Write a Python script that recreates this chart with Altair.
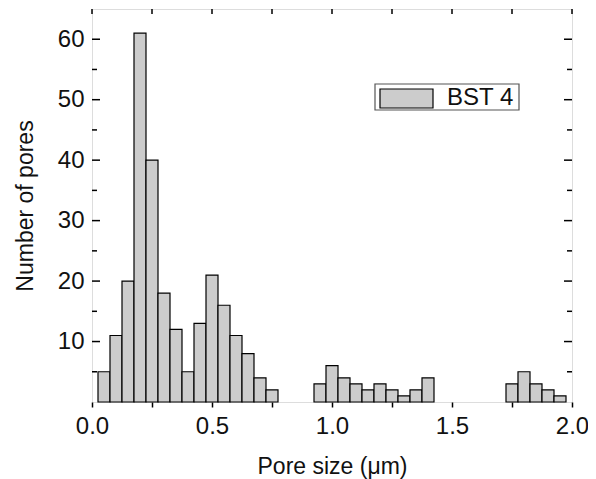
import altair as alt
import pandas as pd

# ---- data ----
bin_centers = [0.05, 0.10, 0.15, 0.20, 0.25, 0.30, 0.35, 0.40, 0.45, 0.50,
               0.55, 0.60, 0.65, 0.70, 0.75, 0.80, 0.85, 0.90, 0.95, 1.00,
               1.05, 1.10, 1.15, 1.20, 1.25, 1.30, 1.35, 1.40, 1.45, 1.50,
               1.55, 1.60, 1.65, 1.70, 1.75, 1.80, 1.85, 1.90, 1.95]
counts = [5, 11, 20, 61, 40, 18, 12, 5, 13, 21,
          16, 11, 8, 4, 2, 0, 0, 0, 3, 6,
          4, 3, 2, 3, 2, 1, 2, 4, 0, 0,
          0, 0, 0, 0, 3, 5, 3, 2, 1]
bin_width = 0.05
series_name = ["BST 4"]

x_ticks = [0.0, 0.25, 0.5, 0.75, 1.0, 1.25, 1.5, 1.75, 2.0]
y_major = [10, 20, 30, 40, 50, 60]
y_minor = [5, 15, 25, 35, 45, 55]

FONT = "Liberation Sans"
W, H = 480, 393
PAD_L = 84
BAR_FILL = "#cccccc"

df = pd.DataFrame({"center": bin_centers, "n": counts})
df["x0"] = df["center"] - bin_width / 2
df["x1"] = df["center"] + bin_width / 2
df = df[df["n"] > 0]

xscale = alt.Scale(domain=[0, 2], nice=False, zero=False)
yscale = alt.Scale(domain=[0, 65], nice=False)

bars = alt.Chart(df).mark_bar(fill=BAR_FILL, stroke="black", strokeWidth=1.2).encode(
    x=alt.X("x0:Q", scale=xscale,
            axis=alt.Axis(values=x_ticks, title="Pore size (\u03bcm)",
                          labelExpr="datum.value % 0.5 == 0 ? format(datum.value, '.1f') : ''",
                          labelFlush=False, labelOverlap=False,
                          tickSize=5, tickWidth=1.5, tickColor="black",
                          domain=False, grid=False, labelPadding=7,
                          labelFontSize=24, titleFontSize=23, titlePadding=17,
                          labelFont=FONT, titleFont=FONT, titleFontWeight="normal",
                          labelColor="#111", titleColor="#111")),
    x2="x1:Q",
    y=alt.Y("n:Q", scale=yscale,
            axis=alt.Axis(values=y_major, title="Number of pores", ticks=False,
                          labelFlush=False, labelOverlap=False,
                          domain=False, grid=False, labelPadding=8,
                          labelFontSize=24, titleFontSize=23, titlePadding=20,
                          labelFont=FONT, titleFont=FONT, titleFontWeight="normal",
                          labelColor="#111", titleColor="#111")),
    y2=alt.datum(0),
)

tick_df_major = pd.DataFrame({"v": y_major})
tick_df_minor = pd.DataFrame({"v": y_minor})
top_df = pd.DataFrame({"v": x_ticks})

left_major = alt.Chart(tick_df_major).mark_rule(color="black", strokeWidth=1.5).encode(
    y=alt.Y("v:Q", scale=yscale), x=alt.value(0), x2=alt.value(8))
left_minor = alt.Chart(tick_df_minor).mark_rule(color="black", strokeWidth=1.5).encode(
    y=alt.Y("v:Q", scale=yscale), x=alt.value(0), x2=alt.value(5))
right_major = alt.Chart(tick_df_major).mark_rule(color="black", strokeWidth=1.5).encode(
    y=alt.Y("v:Q", scale=yscale), x=alt.value(W - 8), x2=alt.value(W))
right_minor = alt.Chart(tick_df_minor).mark_rule(color="black", strokeWidth=1.5).encode(
    y=alt.Y("v:Q", scale=yscale), x=alt.value(W - 5), x2=alt.value(W))
top_ticks = alt.Chart(top_df).mark_rule(color="black", strokeWidth=1.5).encode(
    x=alt.X("v:Q", scale=xscale), y=alt.value(0), y2=alt.value(5))

# legend (drawn as a small box with swatch and label)
leg_df = pd.DataFrame({"label": series_name})
leg_box = alt.Chart(leg_df).mark_rect(fill="white", stroke="#555", strokeWidth=1.2).encode(
    x=alt.value(283), x2=alt.value(427), y=alt.value(75), y2=alt.value(101))
leg_swatch = alt.Chart(leg_df).mark_rect(fill=BAR_FILL, stroke="black", strokeWidth=1.2).encode(
    x=alt.value(288), x2=alt.value(341), y=alt.value(80), y2=alt.value(99))
leg_text = alt.Chart(leg_df).mark_text(
    align="left", baseline="middle", font=FONT, fontSize=24, color="#111").encode(
    x=alt.value(355), y=alt.value(89), text="label:N")

chart = alt.layer(bars, left_major, left_minor, right_major, right_minor, top_ticks,
                  leg_box, leg_swatch, leg_text).properties(
    width=W, height=H,
    autosize=alt.AutoSizeParams(type="none"),
    padding={"left": PAD_L, "top": 1, "right": 580 - PAD_L - W, "bottom": 77},
).configure_view(stroke="black", strokeWidth=1.5).configure(background="white")

chart.save("out.html", embed_options={"renderer": "svg", "actions": False})
